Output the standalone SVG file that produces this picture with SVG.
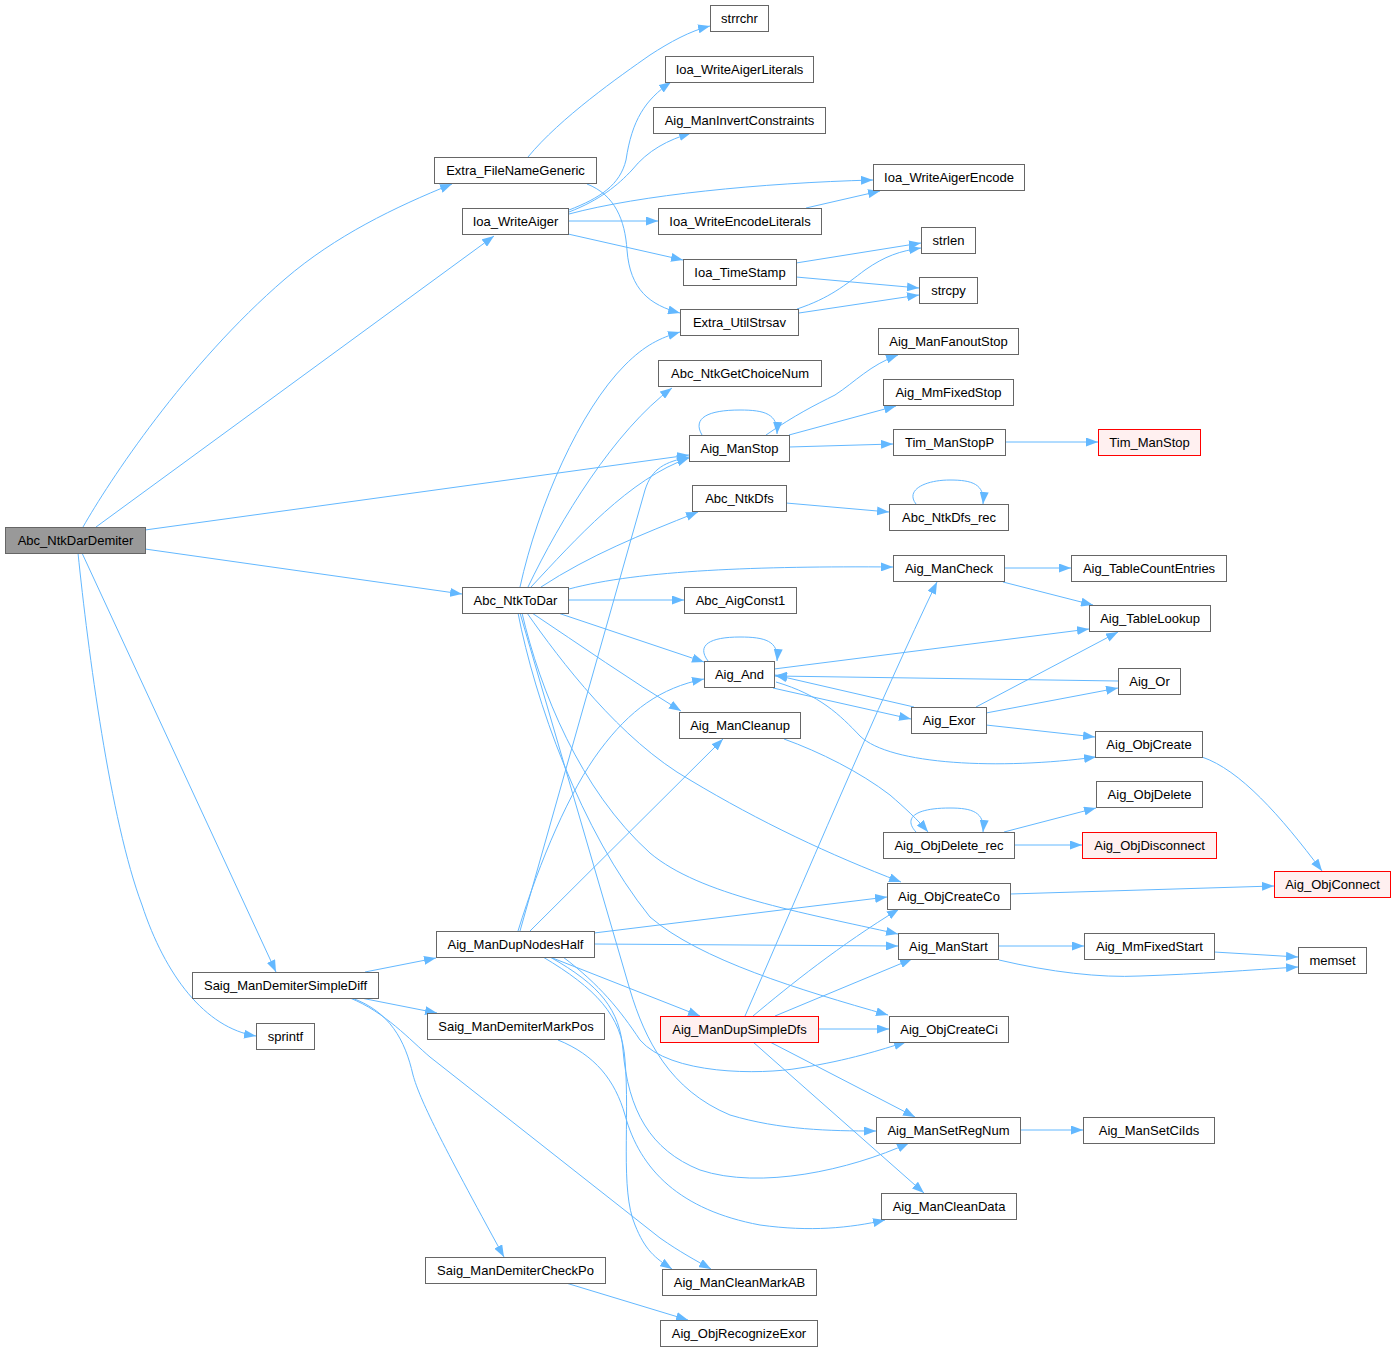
<svg xmlns="http://www.w3.org/2000/svg" width="1396" height="1352" viewBox="0 0 1396 1352">
<style>
.n rect{fill:#ffffff;stroke:#666666;stroke-width:1}
.root rect{fill:#999999;stroke:#666666;stroke-width:1}
.red rect{fill:#fff0f0;stroke:#ff0000;stroke-width:1}
text{font-family:"Liberation Sans",Arial,Helvetica,sans-serif;font-size:13px;fill:#000000;text-anchor:middle}
.e path{fill:none;stroke:#63b8ff;stroke-width:1;marker-end:url(#ah)}
</style>
<defs>
<marker id="ah" markerUnits="userSpaceOnUse" markerWidth="12" markerHeight="9" refX="12" refY="4.5" orient="auto" viewBox="0 0 12 9"><path d="M0,0 L12,4.5 L0,9 z" fill="#63b8ff"/></marker>
</defs>
<rect x="0" y="0" width="1396" height="1352" fill="#ffffff"/>
<g class="e" id="edges">
<path d="M83,527 C108,483 185,365 285,279 C335,236 395,207 452,184"/>
<path d="M96,527 L494,236"/>
<path d="M145,530 L689,455"/>
<path d="M145,549 L462,594"/>
<path d="M82,553 L276,972"/>
<path d="M78,553 C88,650 110,820 142,905 C165,975 205,1028 256,1036"/>
<path d="M528,157 C560,118 620,76 650,55 C670,42 690,31 710,26"/>
<path d="M587,184 C615,195 625,220 627,250 C630,290 650,305 680,313"/>
<path d="M569,210 C600,198 620,185 626,160 C632,120 645,100 671,82"/>
<path d="M569,212 C600,200 618,185 632,170 C648,150 668,140 691,133"/>
<path d="M569,214 C640,195 760,183 873,180"/>
<path d="M568,221 L658,221"/>
<path d="M568,234 L683,260"/>
<path d="M806,208 L880,191"/>
<path d="M796,263 L921,243"/>
<path d="M796,277 L919,288"/>
<path d="M797,309 C830,298 845,285 865,270 C885,256 900,251 921,248"/>
<path d="M799,313 L919,295"/>
<path d="M520,587 C538,505 580,410 625,365 C645,345 660,338 680,332"/>
<path d="M528,587 C560,520 615,430 672,388"/>
<path d="M531,587 C575,540 630,478 689,458"/>
<path d="M541,587 C590,555 640,535 698,512"/>
<path d="M569,589 C640,570 760,566 893,567"/>
<path d="M568,600 L684,600"/>
<path d="M558,613 L704,662"/>
<path d="M532,613 C580,645 630,680 681,711"/>
<path d="M527,613 C560,660 620,740 690,780 C760,822 830,855 901,882"/>
<path d="M522,613 C540,690 580,790 650,853 C700,895 800,912 898,934"/>
<path d="M518,613 C535,700 580,830 650,917 C700,960 800,990 888,1015"/>
<path d="M520,613 L630,990 C645,1040 670,1090 730,1115 C780,1130 830,1131 876,1131"/>
<path d="M702,435 C692,418 708,410 740,410 C765,410 778,414 777,434"/>
<path d="M766,435 C795,415 815,405 835,395 C855,382 870,365 898,355"/>
<path d="M789,435 L896,406"/>
<path d="M789,447 L893,444"/>
<path d="M1005,442 L1098,442"/>
<path d="M786,503 L889,512"/>
<path d="M916,504 C905,490 925,480 950,480 C972,480 985,484 983,504"/>
<path d="M1004,568 L1071,568"/>
<path d="M1003,582 L1093,605"/>
<path d="M708,661 C696,645 710,637 740,637 C765,637 779,641 777,661"/>
<path d="M774,669 L1089,629"/>
<path d="M773,688 L911,719"/>
<path d="M776,682 C820,695 840,715 860,736 C890,765 1000,770 1096,757"/>
<path d="M914,707 L775,675"/>
<path d="M1118,681 L775,676"/>
<path d="M976,707 L1118,632"/>
<path d="M986,713 L1118,688"/>
<path d="M986,725 L1095,737"/>
<path d="M1202,757 C1240,770 1280,815 1322,871"/>
<path d="M784,739 C820,752 860,772 890,795 C905,808 918,820 928,832"/>
<path d="M916,832 C903,818 915,808 950,808 C972,808 985,812 983,832"/>
<path d="M1004,832 L1096,808"/>
<path d="M1014,845 L1082,845"/>
<path d="M1010,894 L1274,886"/>
<path d="M998,946 L1084,946"/>
<path d="M999,960 C1050,972 1100,978 1140,976 C1200,974 1250,970 1298,967"/>
<path d="M1214,952 L1298,957"/>
<path d="M1020,1130 L1083,1130"/>
<path d="M365,972 L436,958"/>
<path d="M361,998 L437,1013"/>
<path d="M352,998 C390,1012 405,1040 413,1075 C420,1100 440,1140 504,1257"/>
<path d="M350,998 C385,1012 410,1040 430,1057 L660,1238 C680,1252 695,1260 711,1269"/>
<path d="M558,1040 C595,1055 615,1080 625,1115 C640,1170 680,1210 760,1225 C810,1232 850,1228 885,1220"/>
<path d="M566,1283 L688,1320"/>
<path d="M594,933 L887,897"/>
<path d="M594,944 L898,946"/>
<path d="M550,957 L700,1016"/>
<path d="M518,931 C540,860 570,790 600,750 C630,710 660,688 704,679"/>
<path d="M530,931 L723,739"/>
<path d="M520,931 L645,490 C652,468 665,462 689,457"/>
<path d="M563,957 C600,985 620,1010 640,1040 C670,1075 760,1075 800,1068 C850,1060 880,1050 906,1042"/>
<path d="M550,957 C600,985 620,1010 623,1050 C628,1110 650,1150 700,1170 C760,1190 850,1170 909,1143"/>
<path d="M543,957 C595,988 622,1015 625,1060 C630,1120 620,1190 635,1225 C645,1250 655,1258 672,1269"/>
<path d="M745,1016 C800,890 880,700 937,582"/>
<path d="M753,1016 C790,985 840,945 899,909"/>
<path d="M775,1016 L912,959"/>
<path d="M818,1029 L889,1029"/>
<path d="M770,1042 L915,1117"/>
<path d="M753,1042 L924,1193"/>
</g>
<g id="n1" class="root"><rect x="5.5" y="527.5" width="140" height="26"/><text x="75.5" y="545">Abc_NtkDarDemiter</text></g>
<g id="n2" class="n"><rect x="434.5" y="157.5" width="162" height="26"/><text x="515.5" y="175">Extra_FileNameGeneric</text></g>
<g id="n3" class="n"><rect x="462.5" y="208.5" width="106" height="26"/><text x="515.5" y="226">Ioa_WriteAiger</text></g>
<g id="n4" class="n"><rect x="710.5" y="5.5" width="58" height="26"/><text x="739.5" y="23">strrchr</text></g>
<g id="n5" class="n"><rect x="665.5" y="56.5" width="148" height="26"/><text x="739.5" y="74">Ioa_WriteAigerLiterals</text></g>
<g id="n6" class="n"><rect x="653.5" y="107.5" width="172" height="26"/><text x="739.5" y="125">Aig_ManInvertConstraints</text></g>
<g id="n7" class="n"><rect x="873.5" y="164.5" width="151" height="26"/><text x="949" y="182">Ioa_WriteAigerEncode</text></g>
<g id="n8" class="n"><rect x="658.5" y="208.5" width="163" height="26"/><text x="740" y="226">Ioa_WriteEncodeLiterals</text></g>
<g id="n9" class="n"><rect x="921.5" y="227.5" width="54" height="26"/><text x="948.5" y="245">strlen</text></g>
<g id="n10" class="n"><rect x="683.5" y="259.5" width="113" height="26"/><text x="740" y="277">Ioa_TimeStamp</text></g>
<g id="n11" class="n"><rect x="919.5" y="277.5" width="58" height="26"/><text x="948.5" y="295">strcpy</text></g>
<g id="n12" class="n"><rect x="680.5" y="309.5" width="118" height="26"/><text x="739.5" y="327">Extra_UtilStrsav</text></g>
<g id="n13" class="n"><rect x="878.5" y="328.5" width="140" height="26"/><text x="948.5" y="346">Aig_ManFanoutStop</text></g>
<g id="n14" class="n"><rect x="658.5" y="360.5" width="163" height="26"/><text x="740" y="378">Abc_NtkGetChoiceNum</text></g>
<g id="n15" class="n"><rect x="883.5" y="379.5" width="130" height="26"/><text x="948.5" y="397">Aig_MmFixedStop</text></g>
<g id="n16" class="n"><rect x="689.5" y="435.5" width="100" height="26"/><text x="739.5" y="453">Aig_ManStop</text></g>
<g id="n17" class="n"><rect x="893.5" y="429.5" width="112" height="26"/><text x="949.5" y="447">Tim_ManStopP</text></g>
<g id="n18" class="red"><rect x="1098.5" y="429.5" width="102" height="26"/><text x="1149.5" y="447">Tim_ManStop</text></g>
<g id="n19" class="n"><rect x="692.5" y="485.5" width="94" height="26"/><text x="739.5" y="503">Abc_NtkDfs</text></g>
<g id="n20" class="n"><rect x="889.5" y="504.5" width="119" height="26"/><text x="949" y="522">Abc_NtkDfs_rec</text></g>
<g id="n21" class="n"><rect x="893.5" y="555.5" width="111" height="26"/><text x="949" y="573">Aig_ManCheck</text></g>
<g id="n22" class="n"><rect x="1071.5" y="555.5" width="155" height="26"/><text x="1149" y="573">Aig_TableCountEntries</text></g>
<g id="n23" class="n"><rect x="462.5" y="587.5" width="106" height="26"/><text x="515.5" y="605">Abc_NtkToDar</text></g>
<g id="n24" class="n"><rect x="684.5" y="587.5" width="112" height="26"/><text x="740.5" y="605">Abc_AigConst1</text></g>
<g id="n25" class="n"><rect x="1089.5" y="605.5" width="121" height="26"/><text x="1150" y="623">Aig_TableLookup</text></g>
<g id="n26" class="n"><rect x="704.5" y="661.5" width="70" height="26"/><text x="739.5" y="679">Aig_And</text></g>
<g id="n27" class="n"><rect x="1118.5" y="668.5" width="62" height="26"/><text x="1149.5" y="686">Aig_Or</text></g>
<g id="n28" class="n"><rect x="911.5" y="707.5" width="75" height="26"/><text x="949" y="725">Aig_Exor</text></g>
<g id="n29" class="n"><rect x="679.5" y="712.5" width="121" height="26"/><text x="740" y="730">Aig_ManCleanup</text></g>
<g id="n30" class="n"><rect x="1095.5" y="731.5" width="107" height="26"/><text x="1149" y="749">Aig_ObjCreate</text></g>
<g id="n31" class="n"><rect x="1096.5" y="781.5" width="106" height="26"/><text x="1149.5" y="799">Aig_ObjDelete</text></g>
<g id="n32" class="n"><rect x="883.5" y="832.5" width="131" height="26"/><text x="949" y="850">Aig_ObjDelete_rec</text></g>
<g id="n33" class="red"><rect x="1082.5" y="832.5" width="134" height="26"/><text x="1149.5" y="850">Aig_ObjDisconnect</text></g>
<g id="n34" class="red"><rect x="1274.5" y="871.5" width="116" height="26"/><text x="1332.5" y="889">Aig_ObjConnect</text></g>
<g id="n35" class="n"><rect x="887.5" y="883.5" width="123" height="26"/><text x="949" y="901">Aig_ObjCreateCo</text></g>
<g id="n36" class="n"><rect x="436.5" y="931.5" width="158" height="26"/><text x="515.5" y="949">Aig_ManDupNodesHalf</text></g>
<g id="n37" class="n"><rect x="898.5" y="933.5" width="100" height="26"/><text x="948.5" y="951">Aig_ManStart</text></g>
<g id="n38" class="n"><rect x="1084.5" y="933.5" width="130" height="26"/><text x="1149.5" y="951">Aig_MmFixedStart</text></g>
<g id="n39" class="n"><rect x="1298.5" y="947.5" width="68" height="26"/><text x="1332.5" y="965">memset</text></g>
<g id="n40" class="n"><rect x="192.5" y="972.5" width="186" height="26"/><text x="285.5" y="990">Saig_ManDemiterSimpleDiff</text></g>
<g id="n41" class="n"><rect x="427.5" y="1013.5" width="177" height="26"/><text x="516" y="1031">Saig_ManDemiterMarkPos</text></g>
<g id="n42" class="red"><rect x="660.5" y="1016.5" width="158" height="26"/><text x="739.5" y="1034">Aig_ManDupSimpleDfs</text></g>
<g id="n43" class="n"><rect x="889.5" y="1016.5" width="119" height="26"/><text x="949" y="1034">Aig_ObjCreateCi</text></g>
<g id="n44" class="n"><rect x="256.5" y="1023.5" width="58" height="26"/><text x="285.5" y="1041">sprintf</text></g>
<g id="n45" class="n"><rect x="876.5" y="1117.5" width="144" height="26"/><text x="948.5" y="1135">Aig_ManSetRegNum</text></g>
<g id="n46" class="n"><rect x="1083.5" y="1117.5" width="131" height="26"/><text x="1149" y="1135">Aig_ManSetCiIds</text></g>
<g id="n47" class="n"><rect x="881.5" y="1193.5" width="135" height="26"/><text x="949" y="1211">Aig_ManCleanData</text></g>
<g id="n48" class="n"><rect x="425.5" y="1257.5" width="180" height="26"/><text x="515.5" y="1275">Saig_ManDemiterCheckPo</text></g>
<g id="n49" class="n"><rect x="662.5" y="1269.5" width="154" height="26"/><text x="739.5" y="1287">Aig_ManCleanMarkAB</text></g>
<g id="n50" class="n"><rect x="660.5" y="1320.5" width="157" height="26"/><text x="739" y="1338">Aig_ObjRecognizeExor</text></g>
</svg>
